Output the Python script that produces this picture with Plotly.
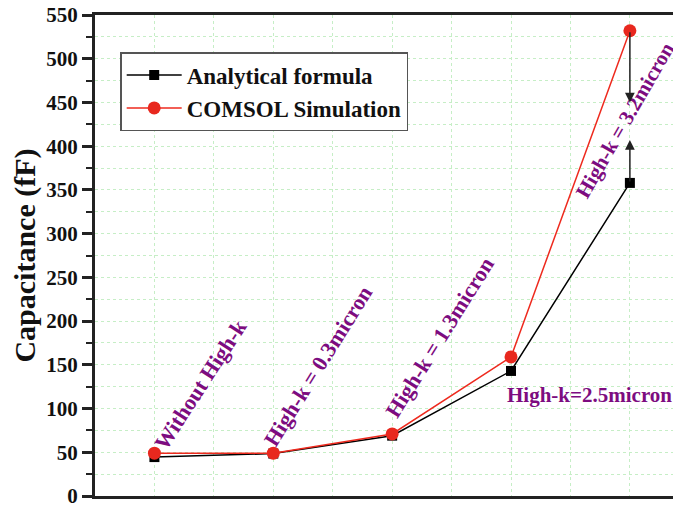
import plotly.graph_objects as go

x_pos = [1, 2, 3, 4, 5]
analytical = [44.5, 48.5, 69, 143, 358]
comsol = [49, 49, 71, 159, 532]
labels = ["Without High-k", "High-k = 0.3micron", "High-k = 1.3micron", "High-k=2.5micron", "High-k = 3.2micron"]
label_x = [1.39, 2.38, 3.40, 4.66, 4.96]
label_y = [127, 149, 181, 115, 430]
label_angle = [-57, -58, -58, 0, -60]
label_size = [22, 22, 22, 21, 21]
arrow_end_top = 450
arrow_end_bottom = 407
y_ticks = [0, 50, 100, 150, 200, 250, 300, 350, 400, 450, 500, 550]

serif = "Liberation Serif, Times New Roman, serif"
purple = "#7d0c80"

fig = go.Figure()
fig.add_trace(go.Scatter(x=x_pos, y=analytical, mode="lines+markers", name="Analytical formula",
                         line=dict(color="black", width=1.5),
                         marker=dict(symbol="square", size=10, color="black")))
fig.add_trace(go.Scatter(x=x_pos, y=comsol, mode="lines+markers", name="COMSOL Simulation",
                         line=dict(color="#ee2a1e", width=1.5),
                         marker=dict(symbol="circle", size=13, color="#e8281e")))

for t, xx, yy, a, s in zip(labels, label_x, label_y, label_angle, label_size):
    fig.add_annotation(x=xx, y=yy, text=t, showarrow=False, textangle=a,
                       font=dict(family=serif, size=s, color=purple, weight="bold"))

# arrows at last point
fig.add_annotation(x=x_pos[4], y=arrow_end_top, ax=x_pos[4], ay=comsol[4], xref="x", yref="y",
                   axref="x", ayref="y", text="", showarrow=True, arrowhead=2, arrowsize=1.3,
                   arrowwidth=1.5, arrowcolor="#222")
fig.add_annotation(x=x_pos[4], y=arrow_end_bottom, ax=x_pos[4], ay=analytical[4], xref="x", yref="y",
                   axref="x", ayref="y", text="", showarrow=True, arrowhead=2, arrowsize=1.3,
                   arrowwidth=1.5, arrowcolor="#222")

grid_col = "#c6eec6"
fig.update_xaxes(range=[0.5, 5.43], dtick=0.5, tick0=0.5, showticklabels=False, ticks="",
                 showgrid=True, gridcolor=grid_col, griddash="dot", gridwidth=1.2,
                 showline=True, linecolor="#222", linewidth=3, mirror=True, zeroline=False,
                 automargin=False)
fig.update_yaxes(range=[0, 550], tickvals=y_ticks, ticks="outside", ticklen=10, tickwidth=2.5,
                 tickcolor="#222", automargin=False, ticklabeloverflow="allow",
                 tickfont=dict(family=serif, size=21, color="#111", weight="bold"),
                 minor=dict(dtick=25, ticks="outside", ticklen=6, tickwidth=2, tickcolor="#222",
                            showgrid=True, gridcolor=grid_col, griddash="dot", gridwidth=1.2),
                 showgrid=True, gridcolor=grid_col, griddash="dot", gridwidth=1.2,
                 showline=True, linecolor="#222", linewidth=3, mirror=False, zeroline=False,
                 title=dict(text="Capacitance (fF)",
                            font=dict(family=serif, size=30, color="#111", weight="bold"),
                            standoff=8))

# page body has an 8px default margin, so the figure is sized to fit the window
fig.update_layout(width=673, height=497, margin=dict(l=87, r=0, t=7, b=9),
                  plot_bgcolor="white", paper_bgcolor="white",
                  legend=dict(x=0.043, y=0.923, xanchor="left", yanchor="top",
                              bordercolor="#555", borderwidth=1.5, bgcolor="white",
                              font=dict(family=serif, size=23, color="#111", weight="bold"),
                              tracegroupgap=0, itemwidth=55))
fig.write_html("out.html")
